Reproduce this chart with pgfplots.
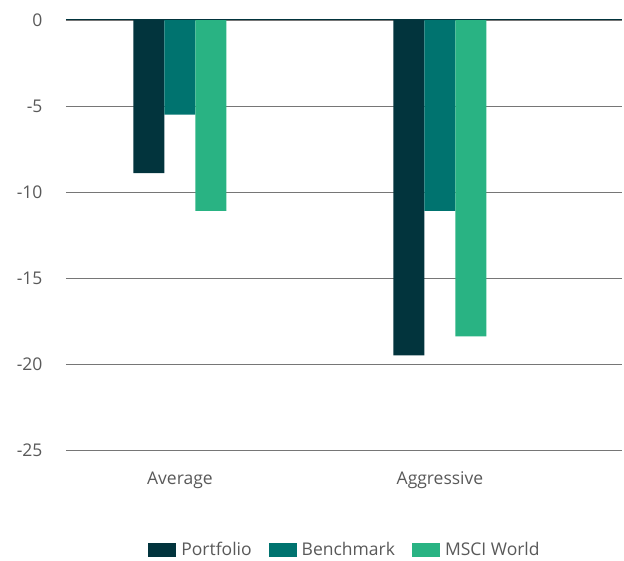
\documentclass[border=0pt]{standalone}
\usepackage{pgfplots}
\pgfplotsset{compat=1.18}
\usepackage{fontspec}
\setmainfont{Open Sans}
\definecolor{cPort}{HTML}{02343D}
\definecolor{cBench}{HTML}{00736F}
\definecolor{cMsci}{HTML}{29B383}
\definecolor{cGrid}{HTML}{767676}
\definecolor{cText}{HTML}{595959}
\begin{document}
\begin{tikzpicture}[x=1pt,y=1pt]
\useasboundingbox (-66,-111) rectangle (558,450);
\begin{axis}[
  at={(0,0)}, anchor=south west,
  scale only axis, width=556pt, height=430pt,
  ymin=-25, ymax=0, xmin=-0.438, xmax=1.7,
  ytick={-25,-20,-15,-10,-5,0},
  xtick={0,1}, xticklabels={Average,Aggressive},
  ybar=0pt, bar width=31pt,
  axis line style={draw=none}, major tick style={draw=none},
  ymajorgrids, grid style={cGrid, line width=0.8pt},
  /pgf/number format/assume math mode=true,
  ticklabel style={font=\fontsize{17.5}{20}\selectfont, text=cText},
  yticklabel style={xshift=-20pt},
  xticklabel style={yshift=-14pt},
  legend style={at={(0.5,0)}, anchor=center, yshift=-100pt, draw=none,
    legend columns=-1, font=\fontsize{17.5}{20}\selectfont, text=cText,
    nodes={inner xsep=0pt},
    /tikz/every odd column/.append style={column sep=5pt},
    /tikz/every even column/.append style={column sep=17pt}},
  legend image code/.code={\fill[#1] (0pt,-7pt) rectangle (28pt,7pt);},
]
\addplot[fill=cPort, draw=none] coordinates {(0,-8.9) (1,-19.5)};
\addplot[fill=cBench, draw=none] coordinates {(0,-5.5) (1,-11.1)};
\addplot[fill=cMsci, draw=none] coordinates {(0,-11.1) (1,-18.4)};
\legend{Portfolio,Benchmark,MSCI World}
\draw[cPort, line width=1pt] (axis cs:-0.438,0) -- (axis cs:1.7,0);
\end{axis}
\end{tikzpicture}
\end{document}
